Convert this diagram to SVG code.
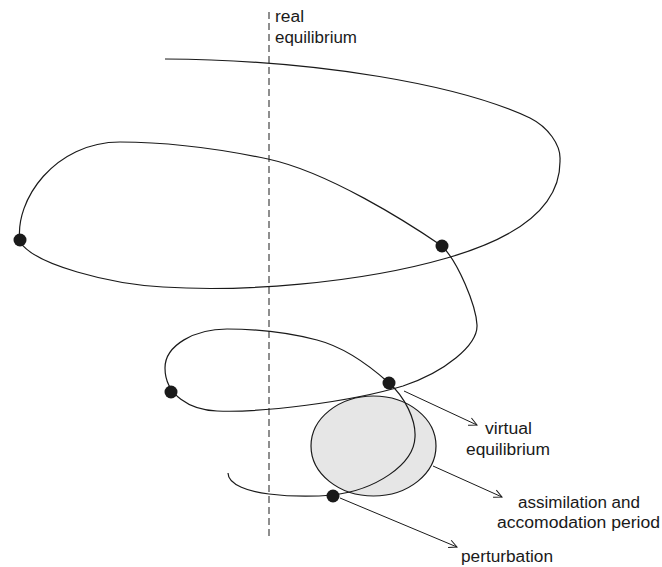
<svg xmlns="http://www.w3.org/2000/svg" width="662" height="567" viewBox="0 0 662 567">
  <style>
    .curve { fill: none; stroke: #1a1a1a; stroke-width: 1.2; }
    .axis { fill: none; stroke: #444; stroke-width: 1.2; stroke-dasharray: 7 4; }
    .dot { fill: #1a1a1a; }
    .pointer { fill: none; stroke: #1a1a1a; stroke-width: 1; marker-end: url(#chev); }
    .label { font-family: "Liberation Sans", Arial, sans-serif; font-size: 16px; fill: #1a1a1a; }
  </style>
  <defs>
    <marker id="chev" viewBox="0 0 10 10" refX="9" refY="5" markerWidth="10" markerHeight="10" markerUnits="userSpaceOnUse" orient="auto">
      <path d="M1,1 L9,5 L1,9" fill="none" stroke="#1a1a1a" stroke-width="1"/>
    </marker>
  </defs>

  <rect width="662" height="567" fill="#ffffff"/>

  <!-- real equilibrium axis -->
  <g id="real-equilibrium">
    <line class="axis" x1="269" y1="12" x2="269" y2="540"/>
    <text class="label" x="275" y="22" textLength="29" lengthAdjust="spacingAndGlyphs">real</text>
    <text class="label" x="275" y="43" textLength="82" lengthAdjust="spacingAndGlyphs">equilibrium</text>
  </g>

  <!-- assimilation / accommodation zone -->
  <g id="assimilation-zone">
    <ellipse cx="373.5" cy="446" rx="62.5" ry="50" fill="#e6e6e6" stroke="#1a1a1a" stroke-width="1.2"/>
  </g>

  <!-- the converging spiral -->
  <g id="spiral">
    <path class="curve" d="M165,59
      C320,60 460,85 530,118
      C548,127 561,145 560,160
      C561,210 510,240 447,258
      C357,284 240,292 163,287
      C110,284 35,265 20,242
      C14,200 55,142 120,142
      C170,142 225,150 268,159
      C328,172 407,222 442,246
      C458,262 476,305 477,325
      C478,345 445,372 403,386
      C350,402 260,413 217,411
      C190,410 165,395 165,368
      C165,345 195,329 227,329
      C260,329 290,333 317,340
      C344,347 370,366 389,383
      C405,397 416,420 415,437
      C414,465 375,490 333,495
      C310,497 285,496 269,494
      C250,492 228,485 228,473"/>
  </g>

  <!-- state points on the spiral -->
  <g id="points">
    <circle class="dot" cx="20" cy="240" r="6.5"/>
    <circle class="dot" cx="442" cy="246" r="6.5"/>
    <circle class="dot" cx="171" cy="392" r="6.5"/>
    <circle class="dot" cx="389" cy="383" r="6.5"/>
    <circle class="dot" cx="333" cy="496" r="6.5"/>
  </g>

  <!-- label pointers -->
  <g id="connectors">
    <line class="pointer" x1="404" y1="391" x2="477" y2="425"/>
    <line class="pointer" x1="433" y1="466" x2="502" y2="497"/>
    <line class="pointer" x1="340" y1="498" x2="457" y2="547"/>
  </g>

  <g id="virtual-equilibrium">
    <text class="label" x="485" y="434" textLength="47" lengthAdjust="spacingAndGlyphs">virtual</text>
    <text class="label" x="466" y="455" textLength="84" lengthAdjust="spacingAndGlyphs">equilibrium</text>
  </g>

  <g id="assimilation-label">
    <text class="label" x="518" y="508" textLength="122" lengthAdjust="spacingAndGlyphs">assimilation and</text>
    <text class="label" x="497" y="528" textLength="163" lengthAdjust="spacingAndGlyphs">accomodation period</text>
  </g>

  <g id="perturbation">
    <text class="label" x="461" y="562" textLength="92" lengthAdjust="spacingAndGlyphs">perturbation</text>
  </g>
</svg>
